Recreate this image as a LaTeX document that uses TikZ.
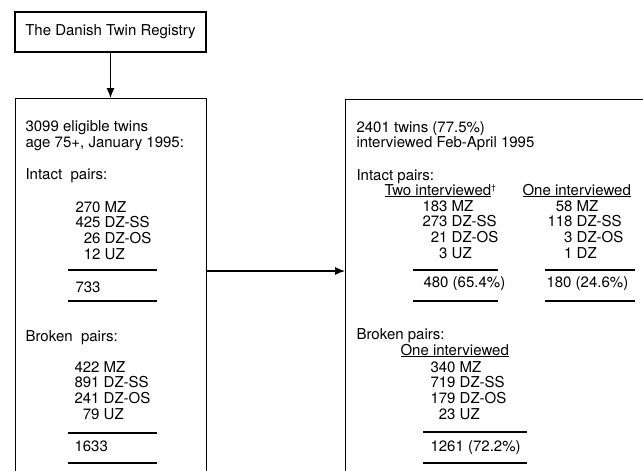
\documentclass[tikz,border=0pt]{standalone}
\usepackage{fontspec}
\setmainfont{TeX Gyre Heros}
\usetikzlibrary{positioning,arrows.meta}
\newcommand{\txt}[4]{\node[txt] (#1) at (#2,#3) {#4};}
\newcommand{\counts}[4]{\node[txt] (#1) at (#2,#3) {\begin{tabular}[t]{@{}r@{ }l@{}}#4\end{tabular}};}
\newcommand{\sumline}[3]{\draw (#1,#3) -- (#2,#3);}

\begin{document}
\begin{tikzpicture}[x=1pt,y=-1pt,line width=1.1pt,>={Latex[length=10pt,width=8pt]},
    txt/.style={anchor=base west,inner sep=0pt,font=\fontsize{15}{15.6}\selectfont},
    box/.style={draw,rectangle,inner sep=0pt}]
    \clip (0,0) rectangle (643,471);
    \node[box,minimum width=191pt,minimum height=40pt,font=\fontsize{15}{15.6}\selectfont] (registry) at (110.5,32) {The Danish Twin Registry};
    \node[box,minimum width=191pt,minimum height=420pt,anchor=north west] (eligible) at (14.5,98) {};
    \node[box,minimum width=320pt,minimum height=420pt,anchor=north west] (interviewed) at (345,99) {};
    \coordinate (split) at (0,271);
    \draw[->] (registry.south) -- (registry.south |- eligible.north);
    \draw[->] (eligible.east |- split) -- (interviewed.west |- split);

    % eligible twins
    \txt{eligA}{25}{131}{3099 eligible twins}
    \txt{eligB}{25}{147}{age 75+, January 1995:}
    \txt{intactL}{25}{179}{Intact~ pairs:}
    \counts{intactLn}{75}{212}{270&MZ\\425&DZ-SS\\26&DZ-OS\\12&UZ}
    \sumline{68}{157}{270}
    \txt{intactLt}{75}{292}{733}
    \sumline{68}{157}{301}
    \txt{brokenL}{25}{341}{Broken~ pairs:}
    \counts{brokenLn}{74}{372}{422&MZ\\891&DZ-SS\\241&DZ-OS\\79&UZ}
    \sumline{68}{157}{433}
    \txt{brokenLt}{74}{451}{1633}
    \sumline{68}{157}{463}

    % interviewed twins
    \txt{intvA}{356}{132}{2401 twins (77.5\%)}
    \txt{intvB}{356}{147}{interviewed Feb-April 1995}
    \txt{intactR}{356}{180}{Intact pairs:}
    \txt{twoHead}{384}{195}{\underline{Two interviewed}\raisebox{5pt}{\fontsize{8}{8}\selectfont\textdagger}}
    \txt{oneHead}{522}{195}{\underline{One interviewed}}
    \counts{twoN}{422}{211}{183&MZ\\273&DZ-SS\\21&DZ-OS\\3&UZ}
    \counts{oneN}{547}{211}{58&MZ\\118&DZ-SS\\3&DZ-OS\\1&DZ}
    \sumline{413}{498}{270} \sumline{545}{635}{270}
    \txt{twoT}{423}{287}{480 (65.4\%)}
    \txt{oneT}{546}{287}{180 (24.6\%)}
    \sumline{413}{498}{301} \sumline{545}{635}{301}
    \txt{brokenR}{356}{339}{Broken pairs:}
    \txt{brokenHead}{400}{355}{\underline{One interviewed}}
    \counts{brokenRn}{430}{372}{340&MZ\\719&DZ-SS\\179&DZ-OS\\23&UZ}
    \sumline{423}{527}{432}
    \txt{brokenRt}{430}{451}{1261 (72.2\%)}
    \sumline{423}{527}{463}
\end{tikzpicture}
\end{document}
